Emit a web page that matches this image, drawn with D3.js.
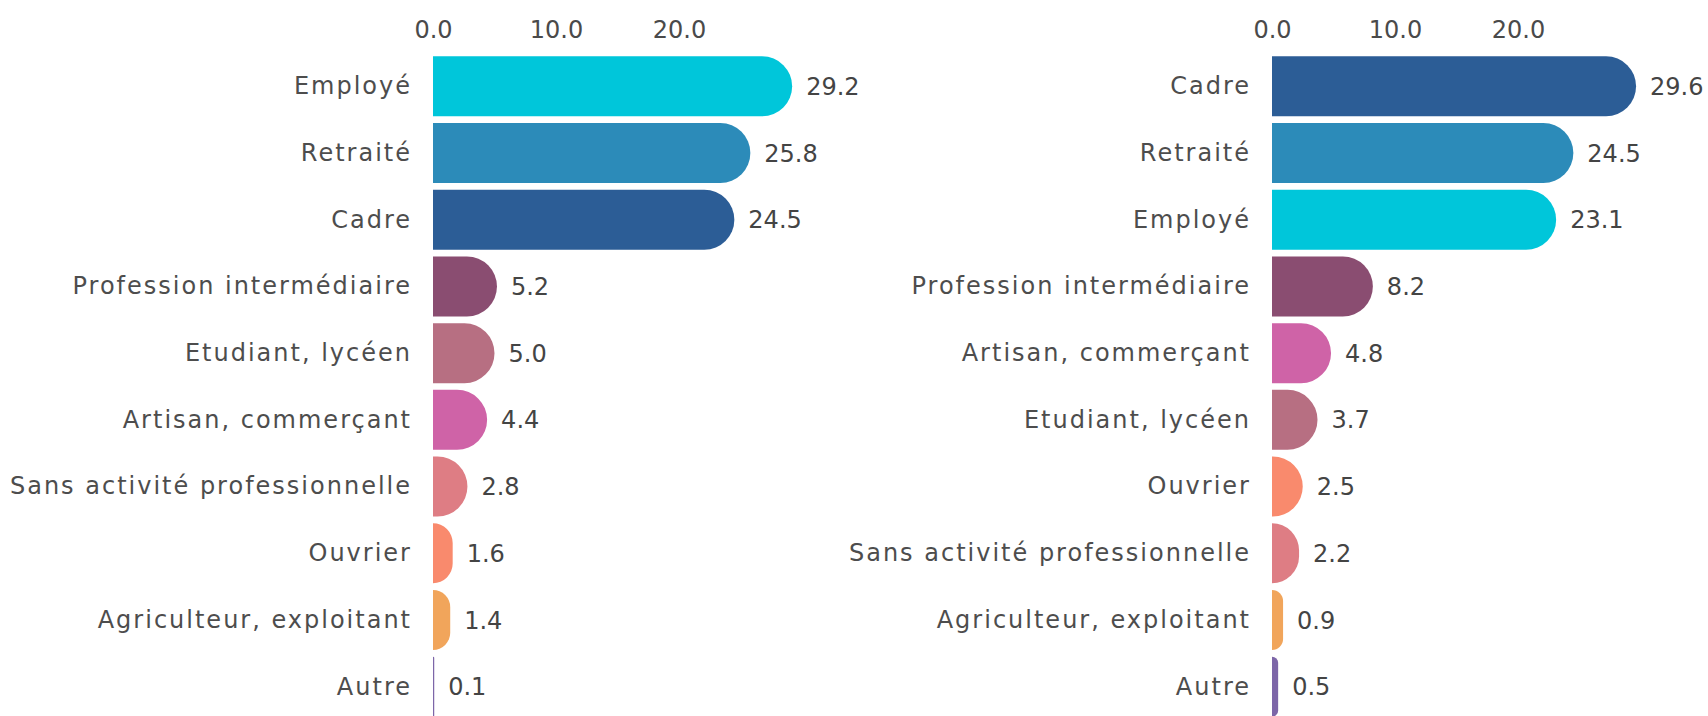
<!DOCTYPE html>
<html><head><meta charset="utf-8">
<script src="https://cdn.jsdelivr.net/npm/d3@7"></script>
<style>
html,body{margin:0;padding:0;background:#fff;}
text{font-family:"DejaVu Sans",sans-serif;}
</style></head>
<body><svg id="c" width="1708" height="716"></svg>
<script>
const leftCategories = ["Employé","Retraité","Cadre","Profession intermédiaire","Etudiant, lycéen","Artisan, commerçant","Sans activité professionnelle","Ouvrier","Agriculteur, exploitant","Autre"];
const leftValues = [29.2,25.8,24.5,5.2,5.0,4.4,2.8,1.6,1.4,0.1];
const rightCategories = ["Cadre","Retraité","Employé","Profession intermédiaire","Artisan, commerçant","Etudiant, lycéen","Ouvrier","Sans activité professionnelle","Agriculteur, exploitant","Autre"];
const rightValues = [29.6,24.5,23.1,8.2,4.8,3.7,2.5,2.2,0.9,0.5];
const tickValues = [0,10,20];
const categoryColors = {
  "Employé":"#00C6DA","Retraité":"#2C8BB9","Cadre":"#2C5D96",
  "Profession intermédiaire":"#8A4D71","Etudiant, lycéen":"#B76F82",
  "Artisan, commerçant":"#CF63A7","Sans activité professionnelle":"#DE7D84",
  "Ouvrier":"#F98A6D","Agriculteur, exploitant":"#F1A55B","Autre":"#7D66A8"
};

const svg = d3.select("#c");

function barPath(x0, w, y, h){
  const r = Math.min(w, h/2);
  const p = d3.path();
  p.moveTo(x0, y);
  p.lineTo(x0 + w - r, y);
  p.arcTo(x0 + w, y, x0 + w, y + r, r);
  p.lineTo(x0 + w, y + h - r);
  p.arcTo(x0 + w, y + h, x0 + w - r, y + h, r);
  p.lineTo(x0, y + h);
  p.closePath();
  return p.toString();
}

function panel(cats, vals, x0){
  const g = svg.append("g");
  const x = d3.scaleLinear().domain([0,30]).range([x0, x0 + 369]);
  const y = d3.scaleBand().domain(cats).range([53, 720]).paddingInner(0.1).paddingOuter(0.05);
  const data = cats.map((c,i)=>({c, v: vals[i]}));

  const ax = d3.axisTop(x).tickValues(tickValues).tickFormat(d3.format(".1f")).tickSize(0).tickPadding(0);
  const axg = g.append("g").attr("transform","translate(0,38)").call(ax);
  axg.select(".domain").remove();
  axg.selectAll("text").attr("font-size",24).attr("font-family","DejaVu Sans").attr("fill","#4a4a4a");

  g.selectAll("path.bar").data(data).join("path").attr("class","bar")
    .attr("d", d => barPath(x(0), x(d.v) - x(0), y(d.c), y.bandwidth()))
    .attr("fill", d => categoryColors[d.c]);

  g.selectAll("text.cat").data(data).join("text").attr("class","cat")
    .attr("x", x(0) - 21).attr("y", d => y(d.c) + y.bandwidth()/2)
    .attr("dy","0.33em").attr("text-anchor","end").attr("font-size",24)
    .attr("letter-spacing","2px").attr("fill","#4d4d4d")
    .text(d => d.c);

  g.selectAll("text.val").data(data).join("text").attr("class","val")
    .attr("x", d => x(d.v) + 14).attr("y", d => y(d.c) + y.bandwidth()/2)
    .attr("dy","0.36em").attr("font-size",24).attr("fill","#444")
    .text(d => d3.format(".1f")(d.v));
}
panel(leftCategories, leftValues, 433);
panel(rightCategories, rightValues, 1272);
</script></body></html>
